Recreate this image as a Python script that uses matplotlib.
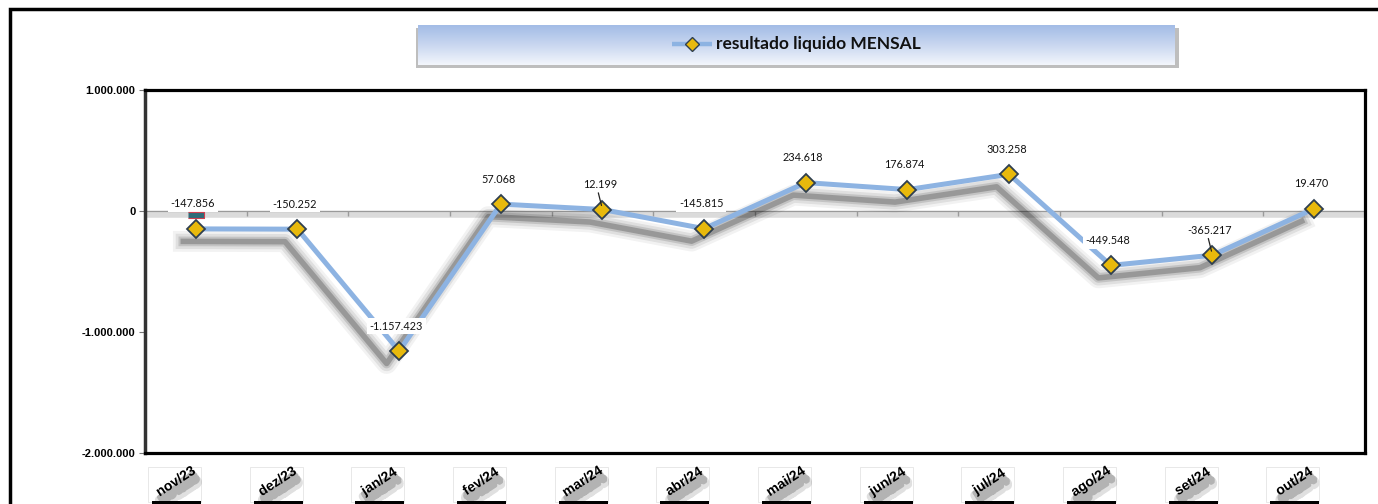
import matplotlib
matplotlib.use("Agg")
import matplotlib.pyplot as plt
import matplotlib.patheffects as pe
import matplotlib.transforms as mtransforms
from matplotlib.patches import Rectangle
from matplotlib.colors import LinearSegmentedColormap
import numpy as np

months = ["nov/23", "dez/23", "jan/24", "fev/24", "mar/24", "abr/24",
          "mai/24", "jun/24", "jul/24", "ago/24", "set/24", "out/24"]
values = [-147856, -150252, -1157423, 57068, 12199, -145815,
          234618, 176874, 303258, -449548, -365217, 19470]
yticks = [-2000000, -1000000, 0, 1000000]
series_name = "resultado liquido MENSAL"

W, H = 1378, 504
fig = plt.figure(figsize=(W / 100, H / 100), dpi=100)
fig.patch.set_facecolor("white")


def fmt(v):
    s = f"{abs(int(v)):,}".replace(",", ".")
    return ("-" if v < 0 else "") + s


# outer chart border
fig.patches.append(Rectangle((10 / W, -0.2), 1.2, 1 - 9 / H + 0.2, fill=False,
                             lw=2.5, ec="black", transform=fig.transFigure, zorder=-5))

# legend box with gradient and shadow
lx0, ly0, lx1, ly1 = 418, 25, 1175, 65
fig.patches.append(Rectangle(((lx0 - 2) / W, 1 - (ly1 + 3) / H), (lx1 - lx0 + 6) / W,
                             (ly1 - ly0) / H, fc="#8a8a8a", ec="none", alpha=0.55,
                             transform=fig.transFigure, zorder=-2))
lax = fig.add_axes([lx0 / W, 1 - ly1 / H, (lx1 - lx0) / W, (ly1 - ly0) / H], zorder=2)
grad = np.linspace(0, 1, 100).reshape(-1, 1)
cmap = LinearSegmentedColormap.from_list("g", ["#a3bce6", "#c9d7f0", "#f3f6fc"])
lax.imshow(grad, aspect="auto", cmap=cmap, extent=(0, 1, 0, 1), origin="upper")
lax.set_xlim(0, 1)
lax.set_ylim(0, 1)
lax.axis("off")
sx0 = (672 - lx0) / (lx1 - lx0)
sx1 = (712 - lx0) / (lx1 - lx0)
lax.plot([sx0, sx1], [0.52, 0.52], color="#8db3e2", lw=3.2, solid_capstyle="butt")
lax.plot([(sx0 + sx1) / 2], [0.52], marker="D", ms=7, mfc="#e8b90c", mec="#2f3f4f", mew=1.0)
lax.text((716 - lx0) / (lx1 - lx0), 0.52, series_name, fontsize=12.5, fontweight="bold",
         family="Lato", va="center", ha="left", color="#111111")

# main plot area
ax = fig.add_axes([145 / W, 1 - 453 / H, 1220 / W, (453 - 90) / H], zorder=1)
x = np.arange(len(months))
ax.set_xlim(-0.5, len(months) - 0.5)
ax.set_ylim(-2000000, 1000000)

# zero line with shadow
ax.axhline(0, color="#9a9a9a", lw=1.0, zorder=1,
           path_effects=[pe.SimpleLineShadow(offset=(0, -3), shadow_color="#b8b8b8", alpha=0.5, linewidth=4),
                         pe.Normal()])
ax.vlines(np.arange(len(months) - 1) + 0.5, -45000, 0, color="#9a9a9a", lw=1.0, zorder=1)

# line with blurred shadow
shadow = [pe.SimpleLineShadow(offset=(-9, -9), shadow_color="black", alpha=0.05, linewidth=15),
          pe.SimpleLineShadow(offset=(-9, -9), shadow_color="black", alpha=0.08, linewidth=11),
          pe.SimpleLineShadow(offset=(-9, -9), shadow_color="black", alpha=0.12, linewidth=7),
          pe.SimpleLineShadow(offset=(-9, -9), shadow_color="black", alpha=0.22, linewidth=4),
          pe.Normal()]
ax.plot(x, values, color="#8db3e2", lw=3.6, solid_joinstyle="round", zorder=3,
        path_effects=shadow)
ax.plot(x, values, ls="none", marker="D", ms=9.5, mfc="#e8b90c", mec="#2f3f4f",
        mew=1.3, zorder=4)

# small flag above first point
flag_tr = mtransforms.offset_copy(ax.transData, fig=fig, x=0, y=10, units="points")
ax.plot(x[:1], values[:1], ls="none", transform=flag_tr, zorder=6,
        marker=[(-1.3, -0.5), (1.3, -0.5), (1.3, 0.5), (-1.3, 0.5)], ms=11,
        mfc="#2e6b78", mec="#d04050", mew=0.8)

# data labels
for xi, v in zip(x, values):
    ax.annotate(fmt(v), xy=(xi, v), xytext=(-2, 18), textcoords="offset points",
                ha="center", va="center", fontsize=7.8, family="Lato", color="#111111",
                bbox=dict(boxstyle="square,pad=0.25", fc="white", ec="none"), zorder=5)
for idx in (4, 10):
    ax.annotate("", xy=(x[idx], values[idx]), xytext=(-3, 12), textcoords="offset points",
                arrowprops=dict(arrowstyle="-", color="#222222", lw=0.9, shrinkA=0, shrinkB=3),
                zorder=6)

# axes styling
for s in ["top", "right", "bottom"]:
    ax.spines[s].set_color("black")
    ax.spines[s].set_linewidth(2.3)
ax.spines["left"].set_color("#333333")
ax.spines["left"].set_linewidth(2.5)
ax.set_yticks(yticks)
ax.set_yticklabels([fmt(t) for t in yticks], fontsize=8, fontweight="bold",
                   family="Liberation Sans")
ax.tick_params(axis="y", length=4, color="#777777", pad=3)
ax.set_xticks([])

# month labels: white box, black bottom band, rotated text with soft shadow
blend = mtransforms.blended_transform_factory(ax.transData, ax.transAxes)
ah = 363.0
for xi, m in zip(x, months):
    ax.add_patch(Rectangle((xi - 0.47, -(502 - 453) / ah), 0.52, (502 - 467) / ah,
                           transform=blend, fc="white", ec="#e4e4e4", lw=0.6,
                           clip_on=False, zorder=2))
    ax.add_patch(Rectangle((xi - 0.43, -(505 - 453) / ah), 0.48, 4 / ah,
                           transform=blend, fc="black", ec="none",
                           clip_on=False, zorder=2))
    ax.annotate(m, xy=(xi, 0), xycoords=("data", "axes fraction"),
                xytext=(-14.5, -20.5), textcoords="offset points",
                ha="center", va="center", rotation=33, fontsize=10, fontweight="bold",
                family="Liberation Sans", color="black", annotation_clip=False, zorder=3,
                path_effects=[pe.SimpleLineShadow(offset=(2, -7), shadow_color="black", alpha=0.12, linewidth=6),
                              pe.SimpleLineShadow(offset=(2, -5), shadow_color="black", alpha=0.2, linewidth=3),
                              pe.Normal()])

fig.savefig("out.png", dpi=100, facecolor="white")
